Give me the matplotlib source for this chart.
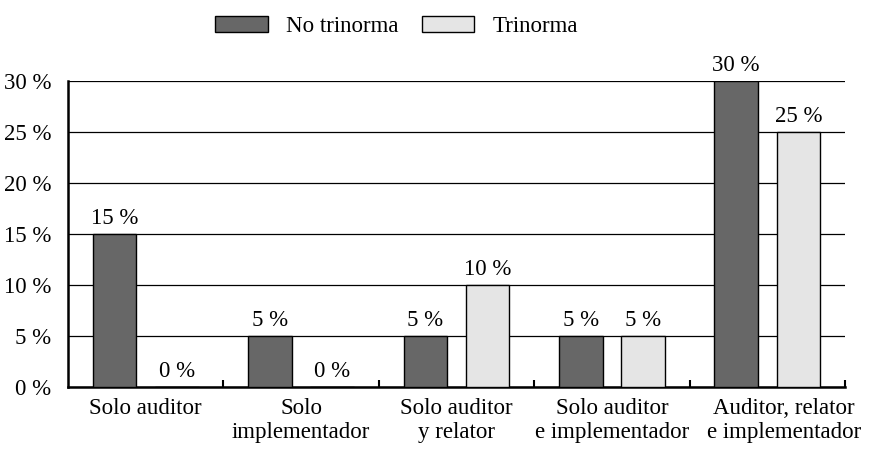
import numpy as np
import matplotlib
matplotlib.use("Agg")
import matplotlib.pyplot as plt
from matplotlib.transforms import ScaledTranslation

categorias = ["Solo auditor", "Solo\nimplementador", "Solo auditor\ny relator",
              "Solo auditor\ne implementador", "Auditor, relator\ne implementador"]
no_trinorma = [15, 5, 5, 5, 30]
trinorma = [0, 0, 10, 5, 25]
series = ["No trinorma", "Trinorma"]

plt.rcParams['font.family'] = ['Liberation Serif', 'DejaVu Serif']
fs = 16.5

fig = plt.figure(figsize=(8.72, 4.57), dpi=100)
ax = fig.add_axes([0.078, 0.153, 0.891, 0.67])

x = np.arange(len(categorias))
w = 0.28
b1 = ax.bar(x - 0.2, no_trinorma, w, color="#676767", edgecolor="black", linewidth=1, label=series[0], zorder=3)
b2 = ax.bar(x + 0.2, trinorma, w, color="#e5e5e5", edgecolor="black", linewidth=1, label=series[1], zorder=3)

for bars, vals in [(b1, no_trinorma), (b2, trinorma)]:
    for r, v in zip(bars, vals):
        ax.text(r.get_x() + r.get_width() / 2, v + 0.5, f"{v} %", ha="center", va="bottom", fontsize=fs)

ax.set_xlim(-0.5, len(categorias) - 0.5)
ax.set_ylim(0, 30)
ax.set_yticks(range(0, 31, 5))
ax.set_yticklabels([f"{t} %" for t in range(0, 31, 5)], fontsize=fs)
ax.yaxis.grid(True, color="black", linewidth=0.9, zorder=0)
ax.set_axisbelow(True)
ax.tick_params(axis="y", length=0, pad=12)

ax.set_xticks(x)
ax.set_xticklabels(categorias, fontsize=fs, linespacing=1.2)
ax.tick_params(axis="x", which="major", length=0, pad=8)
ax.set_xticks(np.arange(0.5, len(categorias), 1), minor=True)
ax.tick_params(axis="x", which="minor", direction="in", length=5, width=1.5)
# la ultima etiqueta va algo corrida a la derecha en el original
last = ax.get_xticklabels()[-1]
last.set_transform(last.get_transform() + ScaledTranslation(0.17, 0, fig.dpi_scale_trans))

for s in ["top", "right"]:
    ax.spines[s].set_visible(False)
ax.spines["left"].set_linewidth(1.8)
ax.spines["bottom"].set_linewidth(1.8)

fig.legend(loc="upper center", bbox_to_anchor=(0.455, 1.01), ncol=2, frameon=False,
           fontsize=fs, handlelength=2.3, handleheight=0.7, columnspacing=1.0, handletextpad=0.8)

fig.savefig("out.png", dpi=100)
